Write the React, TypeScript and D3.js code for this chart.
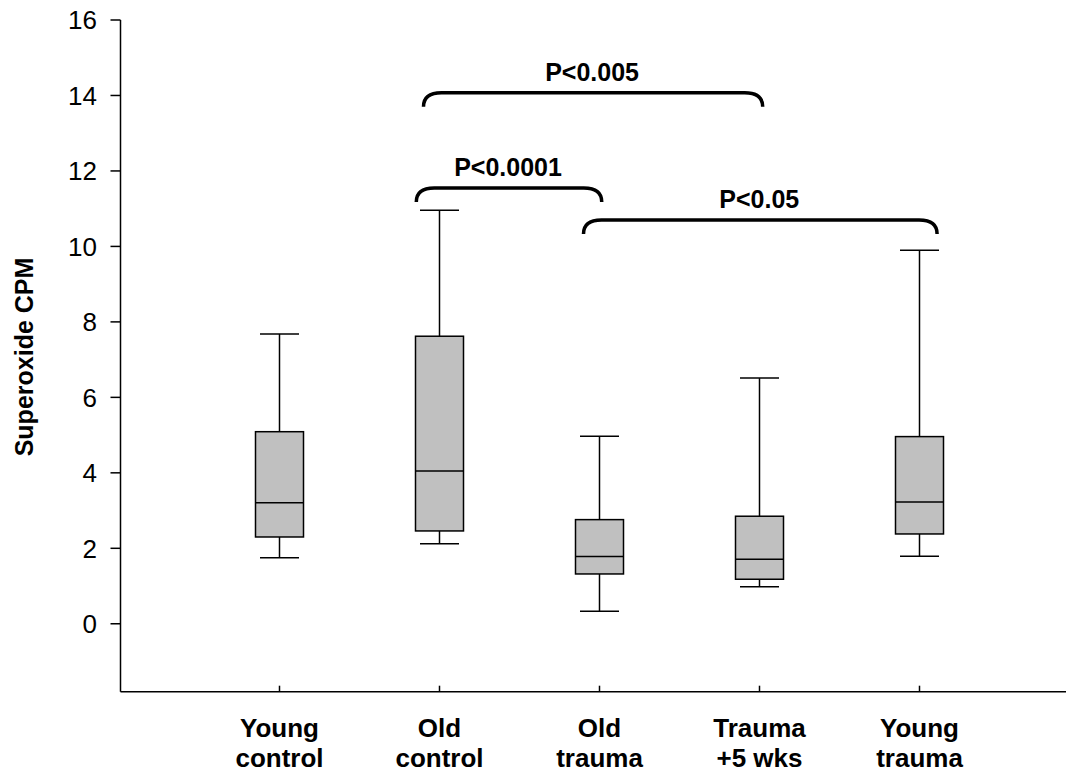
import React, { useEffect, useRef } from 'react'
import * as d3 from 'd3'

// groups
const categories = [['Young', 'control'], ['Old', 'control'], ['Old', 'trauma'], ['Trauma', '+5 wks'], ['Young', 'trauma']]
const whiskerLow = [1.75, 2.12, 0.33, 0.98, 1.79]
const boxLow = [2.3, 2.46, 1.32, 1.18, 2.38]
const medians = [3.21, 4.05, 1.78, 1.71, 3.23]
const boxHigh = [5.09, 7.62, 2.76, 2.85, 4.96]
const whiskerHigh = [7.68, 10.96, 4.97, 6.51, 9.9]

const yTicks = [0, 2, 4, 6, 8, 10, 12, 14, 16]

// significance brackets: from / to in group index units, level in CPM
const bracketFrom = [0.9, 0.855, 1.9]
const bracketTo = [3.02, 2.014, 4.11]
const bracketLevel = [14.07, 11.55, 10.7]
const bracketLabels = ['P<0.005', 'P<0.0001', 'P<0.05']

const W = 1068
const H = 773

function Chart () {
  const ref = useRef<SVGSVGElement>(null)

  useEffect(() => {
    const svg = d3.select(ref.current)
    svg.selectAll('*').remove()

    const x = d3.scaleLinear().domain([0, categories.length - 1]).range([279.5, 919.5])
    const y = d3.scaleLinear().domain([-1.8, 16]).range([691.7, 20])
    const left = 120.5
    const bottom = y(-1.8)
    const boxW = 48
    const capW = 39
    const font = 'Arial, "Liberation Sans", sans-serif'

    // axes
    svg.append('line')
      .attr('x1', left).attr('x2', left)
      .attr('y1', y(16)).attr('y2', bottom)
      .attr('stroke', '#000').attr('stroke-width', 1.5)
    svg.append('line')
      .attr('x1', left).attr('x2', 1066)
      .attr('y1', bottom).attr('y2', bottom)
      .attr('stroke', '#000').attr('stroke-width', 1.5)

    const yt = svg.append('g').selectAll('g')
      .data(yTicks)
      .enter().append('g')
      .attr('transform', d => 'translate(0,' + y(d) + ')')
    yt.append('line')
      .attr('x1', left - 10).attr('x2', left)
      .attr('stroke', '#000').attr('stroke-width', 1.5)
    yt.append('text')
      .attr('x', 97).attr('dy', '0.36em')
      .attr('text-anchor', 'end')
      .attr('font-family', font).attr('font-size', 26)
      .text(d => d)

    svg.append('text')
      .attr('transform', 'translate(33,357) rotate(-90)')
      .attr('text-anchor', 'middle')
      .attr('font-family', font).attr('font-size', 25).attr('font-weight', 'bold')
      .text('Superoxide CPM')

    const xt = svg.append('g').selectAll('g')
      .data(categories)
      .enter().append('g')
      .attr('transform', (d, i) => 'translate(' + x(i) + ',0)')
    xt.append('line')
      .attr('y1', bottom).attr('y2', bottom - 6)
      .attr('stroke', '#000').attr('stroke-width', 1.5)
    const lab = xt.append('text')
      .attr('text-anchor', 'middle')
      .attr('font-family', font).attr('font-size', 26).attr('font-weight', 'bold')
    lab.append('tspan').attr('x', 0).attr('y', 737).text(d => d[0])
    lab.append('tspan').attr('x', 0).attr('y', 767).text(d => d[1])

    // boxes
    const g = svg.append('g').selectAll('g')
      .data(categories)
      .enter().append('g')
      .attr('transform', (d, i) => 'translate(' + x(i) + ',0)')
      .attr('stroke', '#000').attr('stroke-width', 1.5)

    g.append('line')
      .attr('y1', (d, i) => y(whiskerHigh[i])).attr('y2', (d, i) => y(boxHigh[i]))
    g.append('line')
      .attr('y1', (d, i) => y(boxLow[i])).attr('y2', (d, i) => y(whiskerLow[i]))
    g.append('line')
      .attr('x1', -capW / 2).attr('x2', capW / 2)
      .attr('y1', (d, i) => y(whiskerHigh[i])).attr('y2', (d, i) => y(whiskerHigh[i]))
    g.append('line')
      .attr('x1', -capW / 2).attr('x2', capW / 2)
      .attr('y1', (d, i) => y(whiskerLow[i])).attr('y2', (d, i) => y(whiskerLow[i]))
    g.append('rect')
      .attr('x', -boxW / 2).attr('width', boxW)
      .attr('y', (d, i) => y(boxHigh[i]))
      .attr('height', (d, i) => y(boxLow[i]) - y(boxHigh[i]))
      .attr('fill', '#c0c0c0')
    g.append('line')
      .attr('x1', -boxW / 2).attr('x2', boxW / 2)
      .attr('y1', (d, i) => y(medians[i])).attr('y2', (d, i) => y(medians[i]))

    // brackets
    const drop = 14
    const r = 18
    const br = svg.append('g').selectAll('g')
      .data(bracketLabels)
      .enter().append('g')
    br.append('path')
      .attr('fill', 'none').attr('stroke', '#000').attr('stroke-width', 3.5)
      .attr('d', (d, i) => {
        const x1 = x(bracketFrom[i])
        const x2 = x(bracketTo[i])
        const t = y(bracketLevel[i])
        return 'M' + x1 + ',' + (t + drop) +
          'Q' + x1 + ',' + t + ' ' + (x1 + r) + ',' + t +
          'L' + (x2 - r) + ',' + t +
          'Q' + x2 + ',' + t + ' ' + x2 + ',' + (t + drop)
      })
    br.append('text')
      .attr('x', (d, i) => (x(bracketFrom[i]) + x(bracketTo[i])) / 2 - 1)
      .attr('y', (d, i) => y(bracketLevel[i]) - 12)
      .attr('text-anchor', 'middle')
      .attr('font-family', font).attr('font-size', 25).attr('font-weight', 'bold')
      .text(d => d)
  }, [])

  return <svg ref={ref} width={W} height={H} viewBox={`0 0 ${W} ${H}`} style={{ display: 'block' }} />
}

export default function App () {
  return (
    <div style={{ position: 'absolute', left: 0, top: 0, width: W, height: H, background: '#fff' }}>
      <Chart />
    </div>
  )
}
